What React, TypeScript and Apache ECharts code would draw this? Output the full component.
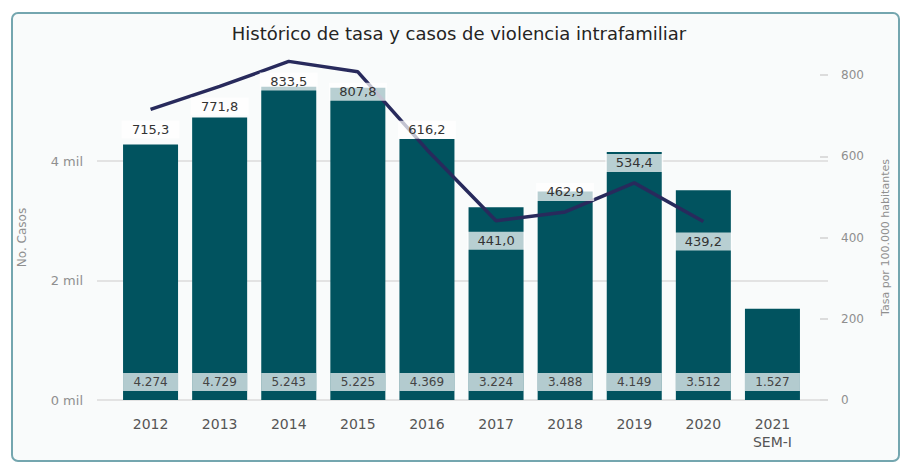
import React, { useEffect, useRef } from "react";
import * as echarts from "echarts";

const categories = ["2012", "2013", "2014", "2015", "2016", "2017", "2018", "2019", "2020", "2021\nSEM-I"];
const casos = [4274, 4729, 5243, 5225, 4369, 3224, 3488, 4149, 3512, 1527];
const tasa: (number | null)[] = [715.3, 771.8, 833.5, 807.8, 616.2, 441.0, 462.9, 534.4, 439.2, null];
const tasaLabelPos = ["bottom", "bottom", "bottom", "bottom", "top", "bottom", "top", "top", "bottom", "bottom"];
const leftTickMax = 4000;
const leftTickStep = 2000;
const rightTickMax = 800;
const rightTickStep = 200;

const titleText = "Histórico de tasa y casos de violencia intrafamiliar";
const FONT = "'DejaVu Sans', 'Open Sans', sans-serif";

const fmtThousands = (v: number) => String(v).replace(/\B(?=(\d{3})+(?!\d))/g, ".");
const fmtDecimal = (v: number) => v.toFixed(1).replace(".", ",");

export default function App() {
  const ref = useRef<HTMLDivElement>(null);
  useEffect(() => {
    if (!ref.current) return;
    const chart = echarts.init(ref.current, undefined, { renderer: "svg" });
    chart.setOption({
      animation: false,
      textStyle: { fontFamily: FONT },
      graphic: [
        {
          type: "text",
          x: 459,
          y: 33,
          style: {
            text: titleText,
            fontSize: 18,
            fontFamily: FONT,
            fill: "#252423",
            textAlign: "center",
            textVerticalAlign: "middle",
          },
        },
      ],
      grid: [
        { left: 97, right: 74, top: 161, bottom: 64 },
        { left: 116, right: 95, top: 75, bottom: 64 },
      ],
      xAxis: [
        { gridIndex: 0, type: "value", show: false, min: 0, max: 1 },
        {
          gridIndex: 1,
          type: "category",
          data: categories,
          axisLine: { show: false },
          axisTick: { show: false },
          axisLabel: { color: "#555", fontSize: 14, margin: 15, lineHeight: 18, fontFamily: FONT },
        },
      ],
      yAxis: [
        {
          gridIndex: 0,
          type: "value",
          min: 0,
          max: leftTickMax,
          interval: leftTickStep,
          position: "left",
          axisLine: { show: false },
          axisTick: { show: false },
          axisLabel: {
            color: "#8f8f8f",
            fontSize: 13,
            margin: 14,
            fontFamily: FONT,
            formatter: (v: number) => `${v / 1000} mil`,
          },
          splitLine: { show: true, lineStyle: { color: "#e3e3e3", width: 2 } },
        },
        {
          gridIndex: 1,
          type: "value",
          min: 0,
          max: 5439,
          position: "left",
          axisLine: { show: false },
          axisTick: { show: false },
          axisLabel: { show: false },
          splitLine: { show: false },
          name: "No. Casos",
          nameLocation: "middle",
          nameGap: 88,
          nameRotate: 90,
          nameTextStyle: { color: "#8f8f8f", fontSize: 12, fontFamily: FONT },
        },
        {
          gridIndex: 1,
          type: "value",
          min: 0,
          max: rightTickMax,
          interval: rightTickStep,
          position: "right",
          offset: 21,
          axisLine: { show: false },
          axisTick: { show: true, inside: true, length: 8, lineStyle: { color: "#dcdcdc", width: 2 } },
          axisLabel: { color: "#8f8f8f", fontSize: 12, margin: 13, fontFamily: FONT },
          splitLine: { show: false },
          name: "Tasa por 100.000 habitantes",
          nameLocation: "middle",
          nameGap: 52,
          nameRotate: 90,
          nameTextStyle: { color: "#8f8f8f", fontSize: 11, fontFamily: FONT },
        },
      ],
      series: [
        {
          type: "bar",
          xAxisIndex: 1,
          yAxisIndex: 1,
          data: casos,
          barWidth: 55,
          itemStyle: { color: "#01535f" },
          label: {
            show: true,
            position: "insideBottom",
            distance: 9,
            formatter: (p: any) => fmtThousands(p.value),
            color: "#444",
            fontSize: 12,
            lineHeight: 14,
            width: 55,
            align: "center",
            padding: [2, 0, 2, 0],
            backgroundColor: "rgba(255,255,255,0.7)",
            fontFamily: FONT,
          },
        },
        {
          type: "line",
          xAxisIndex: 1,
          yAxisIndex: 2,
          clip: false,
          data: tasa.map((v, i) => ({
            value: v,
            label: { show: v != null, position: tasaLabelPos[i] },
          })),
          symbol: "circle",
          symbolSize: 2,
          showSymbol: true,
          itemStyle: { color: "rgba(40,42,92,0)" },
          lineStyle: { color: "#282a5c", width: 3.5 },
          z: 5,
          label: {
            show: true,
            distance: 10,
            formatter: (p: any) => (p.value == null ? "" : fmtDecimal(p.value)),
            color: "#333",
            fontSize: 13,
            lineHeight: 14,
            width: 58,
            align: "center",
            padding: [2, 0, 2, 0],
            backgroundColor: "rgba(255,255,255,0.72)",
            fontFamily: FONT,
          },
        },
      ],
    });
    return () => chart.dispose();
  }, []);

  return (
    <div style={{ position: "fixed", left: 0, top: 0, width: 902, height: 464, background: "#ffffff" }}>
      <div
        style={{
          position: "absolute",
          left: 11,
          top: 12,
          width: 889,
          height: 450,
          boxSizing: "border-box",
          border: "2px solid #74a6af",
          borderRadius: 7,
          background: "#f9fbfb",
        }}
      />
      <div ref={ref} style={{ position: "absolute", left: 0, top: 0, width: 902, height: 464 }} />
    </div>
  );
}
